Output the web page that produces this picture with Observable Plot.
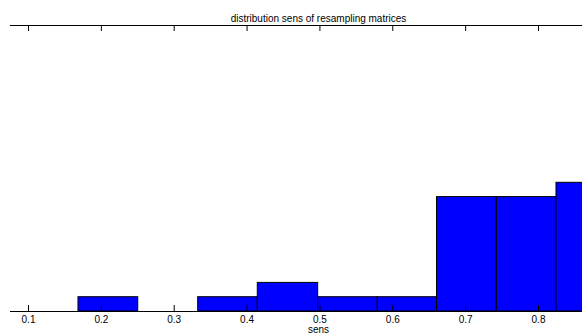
<!DOCTYPE html>
<html>
<head>
<meta charset="utf-8">
<script src="https://cdn.jsdelivr.net/npm/d3@7"></script>
<script src="https://cdn.jsdelivr.net/npm/@observablehq/plot@0.6"></script>
<style>
  html, body { margin: 0; padding: 0; background: #fff; overflow: hidden; }
  #wrap { width: 582px; height: 334px; overflow: hidden; position: relative; }
  #wrap svg { max-width: none !important; width: 626px !important; height: 334px !important; display: block; }
</style>
</head>
<body>
<div id="wrap"></div>
<script>
const title = "distribution sens of resampling matrices";
const xLabel = "sens";
const binEdges = [0.1686, 0.2506, 0.3329, 0.4147, 0.4976, 0.5794, 0.6607, 0.7428, 0.8247, 0.9068];
const counts = [1, 0, 1, 2, 1, 1, 8, 8, 9];
const tickValues = [0.1, 0.2, 0.3, 0.4, 0.5, 0.6, 0.7, 0.8];
const tickLabels = ["0.1", "0.2", "0.3", "0.4", "0.5", "0.6", "0.7", "0.8"];

const bins = counts.map((c, i) => ({x1: binEdges[i], x2: binEdges[i + 1], count: c}));
const ticks = tickValues.map((v, i) => ({v, label: tickLabels[i]}));
const yMax = 20;
const tickLen = 0.42;

const chart = Plot.plot({
  width: 626,
  height: 334,
  marginLeft: 10,
  marginRight: 0,
  marginTop: 25,
  marginBottom: 23,
  style: {fontFamily: "'Liberation Sans', Arial, Helvetica, sans-serif", fontSize: "10px", background: "#fff", overflow: "visible", maxWidth: "none"},
  x: {domain: [0.07529, 0.9208], axis: null},
  y: {domain: [0, yMax], axis: null},
  marks: [
    Plot.rectY(bins.filter(d => d.count > 0), {x1: "x1", x2: "x2", y1: 0, y2: "count", fill: "#0000ff", stroke: "#000", strokeWidth: 1}),
    Plot.ruleY([0, yMax], {stroke: "#000", strokeWidth: 1}),
    Plot.ruleX(ticks, {x: "v", y1: 0, y2: tickLen, stroke: "#000", strokeWidth: 1}),
    Plot.ruleX(ticks, {x: "v", y1: yMax, y2: yMax - tickLen, stroke: "#000", strokeWidth: 1}),
    Plot.text(ticks, {x: "v", y: 0, dy: 8.5, text: "label", fontSize: 10, fill: "#000"}),
    Plot.text([xLabel], {frameAnchor: "bottom", dy: 21.5, text: d => d, fontSize: 10, fill: "#000"}),
    Plot.text([title], {frameAnchor: "top", dy: -11, text: d => d, fontSize: 10, fill: "#000"})
  ]
});
chart.style.maxWidth = "none";
document.getElementById("wrap").appendChild(chart);
</script>
</body>
</html>
